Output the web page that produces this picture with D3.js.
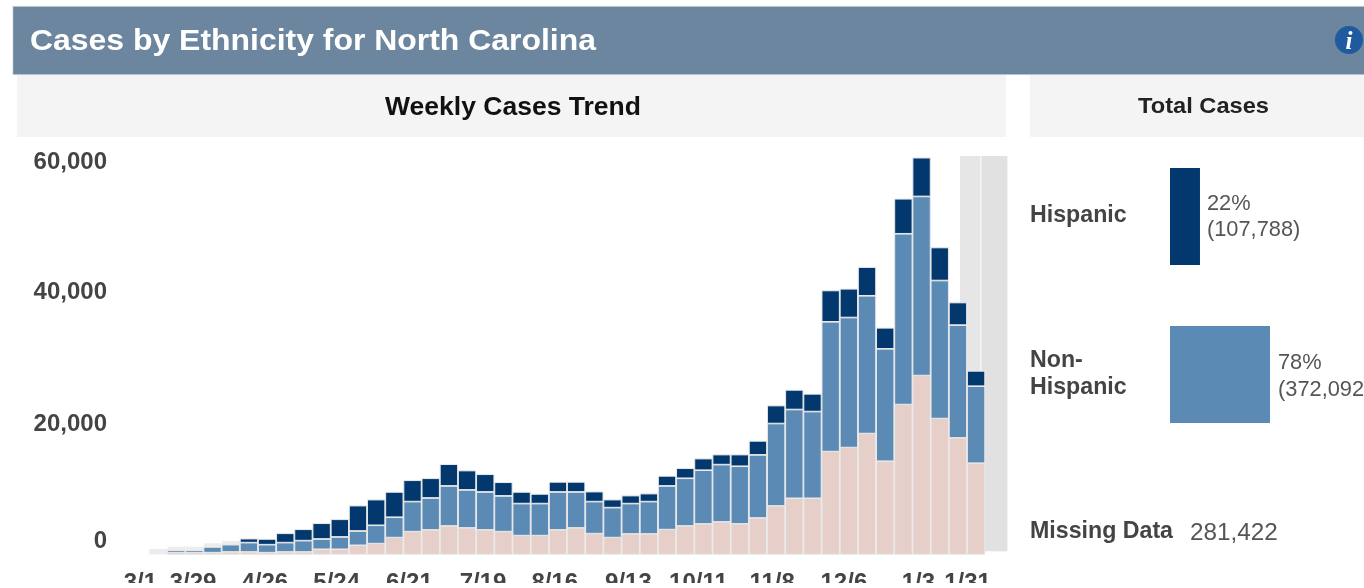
<!DOCTYPE html>
<html><head><meta charset="utf-8">
<script src="https://cdn.jsdelivr.net/npm/d3@7"></script>
<style>
html,body{margin:0;padding:0;background:#fff;overflow:hidden}
svg{display:block;filter:blur(.45px)}
text{font-family:"Liberation Sans",Arial,sans-serif}
</style></head><body>
<script>
const chartTitle = "Cases by Ethnicity for North Carolina";
const trendTitle = "Weekly Cases Trend";
const totalTitle = "Total Cases";
const yTicks = [0, 20000, 40000, 60000];
const xTickLabels = ["3/1","3/29","4/26","5/24","6/21","7/19","8/16","9/13","10/11","11/8","12/6","1/3","1/31"];
const xTickWeeks = [-1,1.9,5.85,9.8,13.8,17.85,21.8,25.85,29.7,33.75,37.7,41.8,44.5];
const missing = [0,250,250,250,350,350,250,350,350,760,760,1360,1620,2530,3430,3690,4290,3990,3690,3430,2830,2830,3690,3990,3130,2530,3080,3080,3740,4290,4600,4900,4600,5500,7320,8480,8480,15550,16160,18280,14090,22670,27060,20550,17620,13790];
const nonHispanic = [0,360,360,860,1110,1420,1210,1420,1720,1560,1870,2170,2770,3080,4550,4840,6060,5760,5750,5410,4850,4850,5750,5450,4850,4540,4600,4900,6610,7220,8130,8680,8730,9550,12480,13440,13130,19650,19690,20860,17020,25860,27120,20900,17080,11660];
const hispanic = [0,0,0,0,0,600,860,1410,1720,2380,2670,3840,3890,3830,3230,2980,3290,2930,2680,2070,1760,1460,1520,1520,1510,1210,1210,1210,1520,1520,1760,1520,1770,2120,2720,2970,2680,4740,4350,4340,3180,5300,5870,5000,3420,2320];
const earlyGrey = [810,1160,1160,1670,2020];
const totalLabels = ["Hispanic","Non-Hispanic"];
const totalValues = [107788,372092];
const totalPcts = ["22%","78%"];
const missingTotal = 281422;

const W=1364,H=583;
const svg=d3.select("body").append("svg").attr("width",W).attr("height",H);
const navy="#03386f", blue="#5b8ab5", pink="#e5cfc8", edge="#e9e9e9";

// panels
svg.append("rect").attr("x",13).attr("y",6.5).attr("width",W).attr("height",68).attr("fill","#6d86a0").attr("stroke","#b9c5d2").attr("stroke-width",.6);
svg.append("rect").attr("x",17).attr("y",75).attr("width",989).attr("height",62).attr("fill","#f4f4f4");
svg.append("rect").attr("x",1030).attr("y",75).attr("width",334).attr("height",62).attr("fill","#f4f4f4");
svg.append("text").attr("x",30).attr("y",50).attr("font-size",30).attr("font-weight",700).attr("fill","#fff").attr("textLength",566).attr("lengthAdjust","spacingAndGlyphs").text(chartTitle);
svg.append("text").attr("x",513).attr("y",115).attr("text-anchor","middle").attr("font-size",25).attr("font-weight",700).attr("fill","#111").attr("textLength",256).attr("lengthAdjust","spacingAndGlyphs").text(trendTitle);
svg.append("text").attr("x",1203.5).attr("y",112.5).attr("text-anchor","middle").attr("font-size",22).attr("font-weight",700).attr("fill","#222").attr("textLength",131).attr("lengthAdjust","spacingAndGlyphs").text(totalTitle);
// info icon
svg.append("circle").attr("cx",1349).attr("cy",40).attr("r",14).attr("fill","#1f5a9e");
svg.append("text").attr("x",1349).attr("y",49).attr("text-anchor","middle").attr("font-size",25).attr("font-weight",700).attr("font-style","italic").attr("fill","#fff").style("font-family","'Liberation Serif'").text("i");

// scales
const weeks=d3.range(missing.length);
const pitch=18.18;
const x=d3.scaleLinear().domain([0,45]).range([149.3,149.3+45*pitch]);
const barW=17.4;
const y=d3.scaleLinear().domain([0,60000]).range([554.3,158]);

// shaded recent weeks
const g=svg.append("g");
g.append("rect").attr("x",x(45)-7.5).attr("y",156).attr("width",20.5).attr("height",y(0)-156).attr("fill","#e6e6e6");
g.append("rect").attr("x",x(45)+14).attr("y",156).attr("width",26).attr("height",y(0)-3-156).attr("fill","#e1e1e1");

g.selectAll("rect.early").data(earlyGrey).join("rect").attr("class","early")
 .attr("x",(d,i)=>x(i)).attr("width",barW+.6).attr("y",d=>y(d)).attr("height",d=>y(0)-y(d)).attr("fill","#ececec");

const rows=weeks.map(i=>({i,missing:missing[i],nonHispanic:nonHispanic[i],hispanic:hispanic[i]}));
const series=d3.stack().keys(["missing","nonHispanic","hispanic"])(rows);
const col={missing:pink,nonHispanic:blue,hispanic:navy};
series.forEach(s=>{
 g.append("g").selectAll("rect").data(s.filter(d=>d[1]>d[0])).join("rect")
  .attr("x",d=>x(d.data.i)).attr("width",barW)
  .attr("y",d=>y(d[1])+ (s.key==="missing"?0:.3)).attr("height",d=>Math.max(1,y(d[0])-y(d[1])-(s.key==="missing"?0:.6)))
  .attr("fill",col[s.key]).attr("stroke",edge).attr("stroke-width",1);
});

// axes
const yAxis=d3.axisLeft(y).tickValues(yTicks).tickSize(0).tickPadding(0).tickFormat(d3.format(","));
const ya=svg.append("g").attr("transform","translate(107,0)").call(yAxis);
ya.select(".domain").remove();
ya.selectAll("text").attr("font-size",24).attr("font-weight",700).attr("fill","#444").style("font-family","'Liberation Sans'")
  .attr("dy",d=>d===0?"-0.27em":d===60000?"0.42em":d===40000?"0.37em":"0.35em");
const xAxis=d3.axisBottom(x).tickValues(xTickWeeks).tickSize(0).tickPadding(0).tickFormat((d,i)=>xTickLabels[i]);
const xa=svg.append("g").attr("transform","translate("+(barW/2)+",573)").call(xAxis);
xa.select(".domain").remove();
xa.selectAll("text").attr("font-size",24).attr("font-weight",700).attr("fill","#444").attr("dy","0.71em").style("font-family","'Liberation Sans'");

// total cases
const tx=d3.scaleLinear().domain([0,372092]).range([0,100]);
const rowY=d3.scalePoint().domain(totalLabels).range([168,326]);
const barH=97;
svg.selectAll("rect.tot").data(totalValues).join("rect").attr("class","tot")
 .attr("x",1170).attr("y",(d,i)=>rowY(totalLabels[i])).attr("width",d=>tx(d)+(d<200000?1:0)).attr("height",barH)
 .attr("fill",(d,i)=>i?blue:navy);
const fmt=d3.format(",");
totalValues.forEach((v,i)=>{
 const ty=rowY(totalLabels[i]);
 const tl=svg.append("text").attr("font-size",21.8).attr("fill","#555");
 tl.append("tspan").attr("x",1170+tx(v)+8).attr("y",ty+(i?43:42)).text(totalPcts[i]);
 tl.append("tspan").attr("x",1170+tx(v)+8).attr("y",ty+(i?70:68)).text("("+fmt(v)+")");
});
const lab=(t,yy,fs)=>svg.append("text").attr("x",1030).attr("y",yy).attr("font-size",fs).attr("font-weight",700).attr("fill","#444").text(t);
lab("Hispanic",222,23.2);
lab("Non-",367,23.2);
lab("Hispanic",394,23.2);
lab("Missing Data",538,23.2);
svg.append("text").attr("x",1190).attr("y",540).attr("font-size",24.3).attr("fill","#555").text(fmt(missingTotal));
</script>
</body></html>
